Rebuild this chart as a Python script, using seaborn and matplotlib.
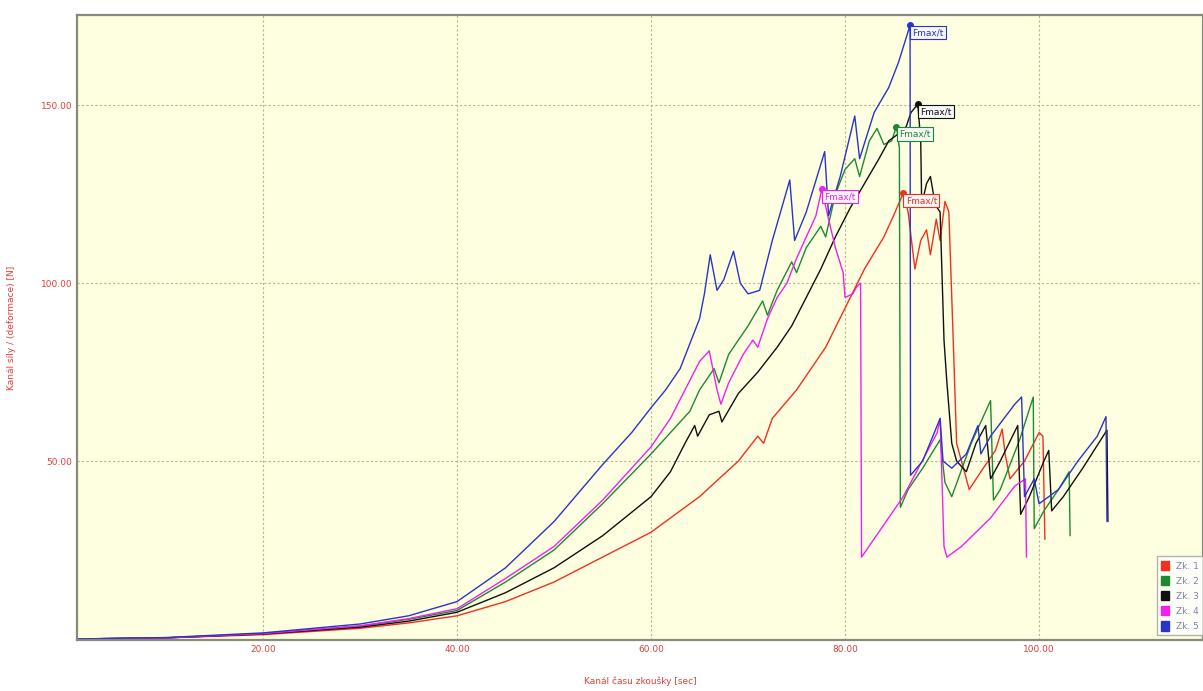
import numpy as np
import pandas as pd
import matplotlib
matplotlib.use("Agg")
import matplotlib.pyplot as plt
from matplotlib.patches import Patch
from matplotlib.ticker import MultipleLocator
import seaborn as sns

# cas zkousky [s] a sila [N] pro kazdou zkousku
t_zk1 = [1, 10, 20, 30, 35, 40, 45, 50, 55, 60, 65, 69, 71, 71.6, 72.5, 75, 78, 80, 82, 84, 85, 86,
         86.5, 87.2, 87.8, 88.4, 88.8, 89.4, 89.8, 90.3, 90.7, 91.2, 91.5, 92.0, 92.8, 94, 95.5, 96.2,
         96.5, 97, 98.5, 100.0, 100.4, 100.6]
f_zk1 = [0, 0.3, 1.2, 3, 4.5, 6.5, 10.5, 16, 23, 30, 40, 50, 57, 55, 62, 70, 82, 93, 104, 113, 119, 125.3,
         120, 104, 112, 115, 108, 118, 112, 123, 120, 80, 55, 50, 42, 47, 53, 59,
         52, 45, 50, 58, 57, 28]

t_zk2 = [1, 10, 20, 30, 35, 40, 45, 50, 55, 60, 62, 64, 65, 66.5, 67, 68, 70, 71.5, 72, 73, 74.5, 75, 76,
         77.5, 78, 79, 80, 81, 81.5, 82.5, 83.3, 84, 84.8, 85.3, 85.6, 85.7, 86.5, 88, 89.8, 90.3, 91, 93,
         95, 95.3, 96, 98, 99.4, 99.5, 100.5, 102, 103.1, 103.2]
f_zk2 = [0, 0.3, 1.5, 3.6, 5.5, 8, 16, 25, 38, 52, 58, 64, 70, 76, 72, 80, 88, 95, 91, 98, 106, 103, 110,
         116, 113, 125, 132, 135, 130, 140, 143.5, 139, 140, 144, 138, 37, 42, 48, 56, 44, 40, 55,
         67, 39, 42, 56, 68, 31, 36, 42, 47, 29]

t_zk3 = [1, 10, 20, 30, 35, 40, 45, 50, 55, 60, 62, 63.5, 64.5, 64.8, 66, 67, 67.3, 69, 71, 73, 74.5, 76,
         77.5, 79, 80.5, 82, 83.5, 84.5, 85.5, 86.3, 86.8, 87.5, 87.8, 87.9, 88.4, 88.8, 89.3, 89.8, 90.2,
         90.5, 91, 91.5, 92.5, 93.5, 94.5, 95, 96, 97.8, 98.1, 99, 100.5, 101, 101.3, 102.5, 104.5, 107,
         107.1]
f_zk3 = [0, 0.3, 1.4, 3.3, 5, 7.5, 13, 20, 29, 40, 47, 55, 60, 57, 63, 64, 61, 69, 75, 82, 88, 96,
         104, 113, 121, 128, 135, 140, 142, 144, 148, 150.3, 140, 122, 128, 130, 122, 120, 84,
         72, 55, 50, 47, 55, 60, 45, 50, 60, 35, 40, 50, 53, 36, 40, 48, 58.7,
         33]

t_zk4 = [1, 10, 20, 30, 35, 40, 45, 50, 55, 60, 62, 63.5, 65, 66, 66.8, 67.2, 68, 69.5, 70.5, 71, 72, 73,
         74, 75, 76, 77, 77.6, 78.3, 79, 79.8, 80, 80.8, 81.2, 81.6, 81.7, 86, 89.5, 89.8, 90.2, 90.5,
         92, 95, 97.5, 98.6, 98.7]
f_zk4 = [0, 0.3, 1.5, 3.7, 5.7, 8.5, 17, 26, 39, 54, 62, 70, 78, 81, 70, 66, 72, 80, 84, 82, 90, 96,
         100, 107, 113, 119, 126.4, 118, 110, 103, 96, 97, 99, 100, 23, 40, 58, 62, 26, 23,
         26, 34, 43, 45, 23]

t_zk5 = [1, 10, 20, 30, 35, 40, 45, 50, 55, 58, 60, 61.5, 63, 64, 65, 65.5, 66.1, 66.8, 67.5, 68.5, 69.2,
         70, 71.2, 72.5, 74.3, 74.8, 76, 77.9, 78.3, 79.5, 81.0, 81.5, 83, 84.5, 85.5, 86.7, 86.75, 88,
         89.8, 90.1, 91, 92.5, 93.7, 94, 95, 97.5, 98.2, 98.5, 99.5, 100, 102, 104, 106, 106.9, 107]
f_zk5 = [0, 0.4, 1.7, 4.2, 6.5, 10.5, 20, 33, 49, 58, 65, 70, 76, 83, 90, 97, 108, 98, 101, 109, 100,
         97, 98, 112, 129, 112, 120, 137, 119, 130, 147, 135, 148, 155, 162, 172.5, 46, 50,
         62, 50, 48, 52, 60, 52, 57, 66, 68, 40, 45, 38, 42, 50, 57, 62.5, 33]

zkousky = ["Zk. 1", "Zk. 2", "Zk. 3", "Zk. 4", "Zk. 5"]
barvy = ["#f2301c", "#1d8a32", "#101010", "#f020f0", "#2a35c8"]

casy = [t_zk1, t_zk2, t_zk3, t_zk4, t_zk5]
sily = [f_zk1, f_zk2, f_zk3, f_zk4, f_zk5]

rows = []
for name, tt, ff in zip(zkousky, casy, sily):
    for i, (a, b) in enumerate(zip(tt, ff)):
        rows.append((name, i, a, b))
df = pd.DataFrame(rows, columns=["zk", "i", "cas", "sila"])

sns.set_style("white")
plt.rcParams['font.family'] = ['DejaVu Sans']

fig = plt.figure(figsize=(12.03, 6.91), dpi=100)
ax = fig.add_axes([0.064, 0.0738, 0.936, 0.904])
ax.set_facecolor("#fefee0")

sns.lineplot(data=df, x="cas", y="sila", hue="zk", palette=barvy, sort=False, estimator=None,
             units="zk", linewidth=1.0, legend=False, ax=ax)

# Fmax znacky
for name, tt, ff, c in zip(zkousky, casy, sily, barvy):
    k = int(np.argmax(ff))
    ax.plot(tt[k], ff[k], "o", color=c, ms=4, zorder=5)
    ax.text(tt[k] + 0.25, ff[k] - 0.8, "Fmax/t", color=c, fontsize=6.5, ha="left", va="top",
            bbox=dict(boxstyle="square,pad=0.25", fc="#f6f6f6", ec=c, lw=0.8), zorder=6)

ax.set_xlim(0.82, 116.9)
ax.set_ylim(-0.3, 175.3)
ax.set_xticks([20, 40, 60, 80, 100])
ax.set_yticks([50, 100, 150])
ax.xaxis.set_minor_locator(MultipleLocator(5))
ax.yaxis.set_minor_locator(MultipleLocator(10))
ax.xaxis.set_major_formatter(matplotlib.ticker.FormatStrFormatter("%.2f"))
ax.yaxis.set_major_formatter(matplotlib.ticker.FormatStrFormatter("%.2f"))
ax.tick_params(axis="both", which="both", direction="in", colors="#9a9a80", labelcolor="#e0403a",
               labelsize=6.5)
ax.tick_params(which="major", length=4)
ax.tick_params(which="minor", length=3)
ax.grid(True, which="major", color="#b8b890", linestyle=(0, (2, 2)), linewidth=0.8)
for s in ax.spines.values():
    s.set_color("#8a8a78")
    s.set_linewidth(1.6)

ax.set_xlabel("Kanál času zkoušky [sec]", color="#e0403a", fontsize=6.5, labelpad=16)
ax.set_ylabel("Kanál síly / (deformace) [N]", color="#e0403a", fontsize=6.5, labelpad=18)

handles = [Patch(facecolor=c, edgecolor=c) for c in barvy]
leg = ax.legend(handles, zkousky, loc="lower left", bbox_to_anchor=(0.955, 0.0), fontsize=6.5,
                frameon=True, fancybox=False, edgecolor="#a0a0a0", facecolor="#ffffff",
                handlelength=0.8, handleheight=1.2, labelspacing=0.6, borderpad=0.5)
for txt in leg.get_texts():
    txt.set_color("#8080b0")

fig.savefig("out.png", dpi=100)
